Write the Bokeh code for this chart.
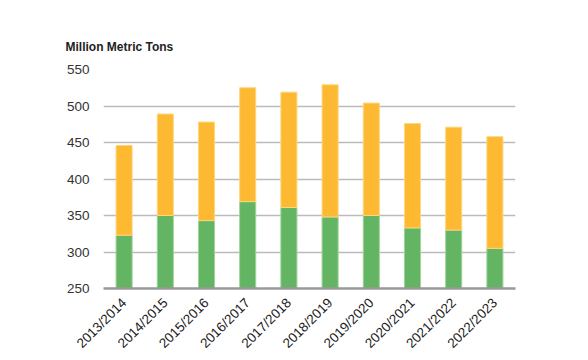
import math
from bokeh.plotting import figure
from bokeh.models import Range1d, FixedTicker, ColumnDataSource
from bokeh.embed import file_html
from bokeh.resources import INLINE

years = ["2013/2014", "2014/2015", "2015/2016", "2016/2017", "2017/2018",
         "2018/2019", "2019/2020", "2020/2021", "2021/2022", "2022/2023"]
green_vals = [323, 350, 343, 369, 361, 348, 350, 333, 330, 305]
total_vals = [446, 489, 478, 525, 519, 529, 504, 476, 471, 458]
y_ticks = [250, 300, 350, 400, 450, 500, 550]
base = 250

src = ColumnDataSource(dict(x=years, g=green_vals, t=total_vals, b=[base] * len(years)))

p = figure(x_range=years, y_range=Range1d(250, 550), width=572, height=359,
           output_backend="svg", toolbar_location=None,
           min_border_left=103, min_border_right=57, min_border_top=69, min_border_bottom=60)
p.outline_line_color = None
p.background_fill_color = "white"

p.vbar(x="x", bottom="b", top="g", width=0.39, source=src,
       fill_color="#63B463", line_color="#9FD39A", line_width=1)
p.vbar(x="x", bottom="g", top="t", width=0.39, source=src,
       fill_color="#FDB931", line_color="#FDD77E", line_width=1)

p.xgrid.grid_line_color = None
p.ygrid.grid_line_color = "#BBBBBB"
p.ygrid.grid_line_width = 1.5
p.yaxis.ticker = FixedTicker(ticks=y_ticks)
p.yaxis.axis_line_color = None
p.yaxis.major_tick_line_color = None
p.yaxis.minor_tick_line_color = None
p.yaxis.major_label_text_font = "Liberation Sans"
p.yaxis.major_label_text_font_size = "13.5px"
p.yaxis.major_label_text_color = "#333333"
p.yaxis.major_label_standoff = 8

p.xaxis.axis_line_color = "#999999"
p.xaxis.axis_line_width = 2.5
p.xaxis.major_tick_line_color = None
p.xaxis.minor_tick_line_color = None
p.xaxis.major_label_orientation = math.pi / 4
p.xaxis.major_label_text_font = "Liberation Sans"
p.xaxis.major_label_text_font_size = "13.5px"
p.xaxis.major_label_text_color = "#222222"
p.xaxis.major_label_standoff = 6

p.title.text = "Million Metric Tons"
p.title.align = "left"
p.title.offset = -38
p.title.text_font = "Liberation Sans"
p.title.text_font_style = "bold"
p.title.text_font_size = "12px"
p.title.text_color = "#222222"
p.title.standoff = 32

open("out.html", "w").write(file_html(p, INLINE))
